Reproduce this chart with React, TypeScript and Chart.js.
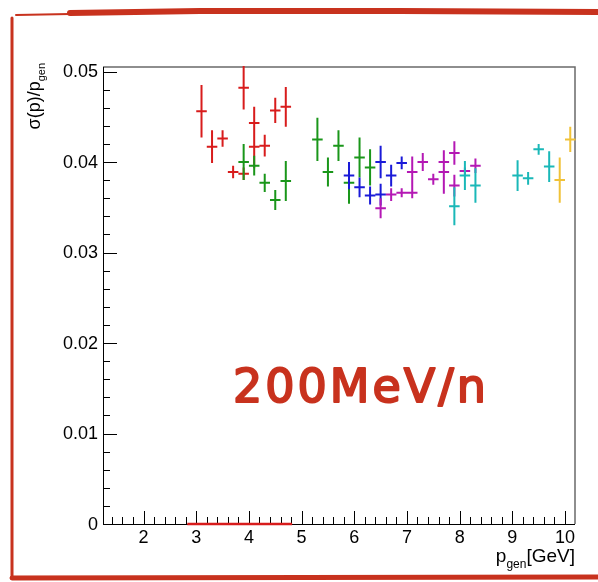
import React, { useEffect, useRef } from "react";
import { Chart, registerables } from "chart.js";

Chart.register(...registerables);

// ---- axis ranges & ticks ----
const X_MIN = 1.23;
const X_MAX = 10.19;
const Y_MIN = 0;
const Y_MAX = 0.0505;
const xMajorTicks = [2, 3, 4, 5, 6, 7, 8, 9, 10];
const xTickLabels = ["2", "3", "4", "5", "6", "7", "8", "9", "10"];
const yMajorTicks = [0, 0.01, 0.02, 0.03, 0.04, 0.05];
const yTickLabels = ["0", "0.01", "0.02", "0.03", "0.04", "0.05"];
const X_MINOR_STEP = 0.2;
const Y_MINOR_STEP = 0.002;

// ---- data: momentum bins (x), resolution (y), y-errors ----
const X_ERR = 0.1;

const redX = [3.1, 3.3, 3.5, 3.7, 3.9, 3.9, 4.1, 4.1, 4.3, 4.5, 4.7];
const redY = [0.0456, 0.0417, 0.0426, 0.0389, 0.0482, 0.0387, 0.0443, 0.0417, 0.0418, 0.0457, 0.0461];
const redEY = [0.0029, 0.0018, 0.0009, 0.0007, 0.0024, 0.0007, 0.0018, 0.0024, 0.0012, 0.0014, 0.0022];

const greenX = [3.9, 4.1, 4.3, 4.5, 4.7, 5.3, 5.5, 5.7, 5.9, 6.1, 6.3];
const greenY = [0.04, 0.0396, 0.0377, 0.0358, 0.0379, 0.0425, 0.0389, 0.0418, 0.0377, 0.0405, 0.0394];
const greenEY = [0.002, 0.0011, 0.001, 0.0011, 0.0022, 0.0024, 0.0016, 0.0017, 0.0023, 0.0022, 0.002];

const blueX = [5.9, 6.1, 6.3, 6.5, 6.5, 6.7, 6.9];
const blueY = [0.0385, 0.0372, 0.0363, 0.04, 0.0364, 0.0385, 0.0399];
const blueEY = [0.0015, 0.0011, 0.001, 0.0018, 0.0012, 0.0012, 0.0007];

const magentaX = [6.5, 6.7, 6.9, 7.1, 7.1, 7.3, 7.5, 7.7, 7.7, 7.9, 7.9, 8.1, 8.3];
const magentaY = [0.0349, 0.0364, 0.0366, 0.0389, 0.0366, 0.04, 0.0381, 0.04, 0.0389, 0.041, 0.0374, 0.039, 0.0396];
const magentaEY = [0.0011, 0.0007, 0.0005, 0.0017, 0.0006, 0.001, 0.0006, 0.0012, 0.0024, 0.0013, 0.0012, 0.0004, 0.0008];

const cyanX = [7.9, 8.1, 8.3, 9.1, 9.3, 9.5, 9.7];
const cyanY = [0.0351, 0.0385, 0.0374, 0.0385, 0.0382, 0.0414, 0.0395];
const cyanEY = [0.0021, 0.0016, 0.0019, 0.0017, 0.0007, 0.0006, 0.0017];

const yellowX = [9.9, 10.1];
const yellowY = [0.038, 0.0425];
const yellowEY = [0.0025, 0.0014];

// red marker segment along the x axis
const segX = [2.83, 4.82];
const segY = [0, 0];

const ANNOTATION = "200MeV/n";

const COLORS = {
  red: "#d81c1c",
  green: "#1a961a",
  blue: "#1a1ad8",
  magenta: "#b418b4",
  cyan: "#1ab8b8",
  yellow: "#f0c238",
  brush: "#c8321e",
};

function pts(xs: number[], ys: number[], es: number[]) {
  return xs.map((x, i) => ({ x, y: ys[i], ey: es[i] }));
}

const FONT = "'Liberation Sans', Arial, sans-serif";

const rootPlugin = {
  id: "rootStyle",
  beforeDraw(chart: any) {
    const ctx = chart.ctx;
    const W = chart.width;
    const H = chart.height;
    ctx.save();
    ctx.fillStyle = "#ffffff";
    ctx.fillRect(0, 0, W, H);
    // hand-drawn red frame
    ctx.strokeStyle = COLORS.brush;
    ctx.lineCap = "round";
    ctx.lineWidth = 2;
    ctx.beginPath();
    ctx.moveTo(16, 15);
    ctx.lineTo(70, 14);
    ctx.stroke();
    ctx.lineWidth = 6;
    ctx.beginPath();
    ctx.moveTo(70, 13);
    ctx.lineTo(200, 11);
    ctx.lineTo(400, 11);
    ctx.lineTo(598, 12);
    ctx.stroke();
    ctx.lineWidth = 3;
    ctx.beginPath();
    ctx.moveTo(12, 18);
    ctx.lineTo(12, 578);
    ctx.stroke();
    ctx.lineWidth = 5;
    ctx.beginPath();
    ctx.moveTo(12, 578);
    ctx.lineTo(598, 577);
    ctx.stroke();
    ctx.restore();
  },
  beforeDatasetsDraw(chart: any) {
    const ctx = chart.ctx;
    const xs = chart.scales.x;
    const ys = chart.scales.y;
    const a = chart.chartArea;
    ctx.save();
    // frame
    ctx.strokeStyle = "#6a6a6a";
    ctx.lineWidth = 1.5;
    ctx.beginPath();
    ctx.moveTo(a.left, a.top);
    ctx.lineTo(a.right, a.top);
    ctx.lineTo(a.right, a.bottom);
    ctx.stroke();
    ctx.strokeStyle = "#000";
    ctx.lineWidth = 1;
    ctx.beginPath();
    ctx.moveTo(a.left + 0.5, a.top);
    ctx.lineTo(a.left + 0.5, a.bottom + 0.5);
    ctx.lineTo(a.right, a.bottom + 0.5);
    ctx.stroke();
    // x ticks (inside)
    ctx.beginPath();
    for (let v = 1.4; v <= X_MAX + 1e-9; v += X_MINOR_STEP) {
      const px = Math.round(xs.getPixelForValue(v)) + 0.5;
      const isMajor = Math.abs(v - Math.round(v)) < 1e-6;
      const len = isMajor ? 13 : 7;
      ctx.moveTo(px, a.bottom);
      ctx.lineTo(px, a.bottom - len);
    }
    // y ticks
    for (let v = 0; v <= Y_MAX + 1e-9; v += Y_MINOR_STEP) {
      const py = Math.round(ys.getPixelForValue(v)) + 0.5;
      const isMajor = Math.abs(v / 0.01 - Math.round(v / 0.01)) < 1e-6;
      const len = isMajor ? 14 : 7;
      ctx.moveTo(a.left, py);
      ctx.lineTo(a.left + len, py);
    }
    ctx.stroke();
    // tick labels
    ctx.fillStyle = "#000";
    ctx.font = `18px ${FONT}`;
    ctx.textAlign = "center";
    ctx.textBaseline = "top";
    xMajorTicks.forEach((v, i) => {
      ctx.fillText(xTickLabels[i], xs.getPixelForValue(v), a.bottom + 5);
    });
    ctx.textAlign = "right";
    ctx.textBaseline = "middle";
    yMajorTicks.forEach((v, i) => {
      ctx.fillText(yTickLabels[i], a.left - 5, ys.getPixelForValue(v) + 1);
    });
    // x title: p_gen[GeV], right aligned
    const big = `19px ${FONT}`;
    const small = `12px ${FONT}`;
    ctx.textBaseline = "alphabetic";
    ctx.textAlign = "left";
    ctx.font = big;
    const wGeV = ctx.measureText("[GeV]").width;
    const wP = ctx.measureText("p").width;
    ctx.font = small;
    const wGen = ctx.measureText("gen").width;
    const right = a.right;
    const base = 562;
    let xx = right - wGeV - wGen - wP;
    ctx.font = big;
    ctx.fillText("p", xx, base);
    ctx.font = small;
    ctx.fillText("gen", xx + wP, base + 6);
    ctx.font = big;
    ctx.fillText("[GeV]", xx + wP + wGen, base);
    // y title: sigma(p)/p_gen, rotated, right aligned to top
    ctx.save();
    ctx.translate(40, 63);
    ctx.rotate(-Math.PI / 2);
    ctx.font = `18px ${FONT}`;
    const wMain = ctx.measureText("\u03c3(p)/p").width;
    ctx.font = `11px ${FONT}`;
    const wSub = ctx.measureText("gen").width;
    const start = -(wMain + wSub);
    ctx.font = `18px ${FONT}`;
    ctx.fillText("\u03c3(p)/p", start, 0);
    ctx.font = `11px ${FONT}`;
    ctx.fillText("gen", start + wMain, 5);
    ctx.restore();
    ctx.restore();
  },
  afterDatasetsDraw(chart: any) {
    const ctx = chart.ctx;
    const xs = chart.scales.x;
    const ys = chart.scales.y;
    ctx.save();
    chart.data.datasets.forEach((ds: any) => {
      if (!ds.errorBars) return;
      ctx.strokeStyle = ds.borderColor;
      ctx.lineWidth = 2;
      ctx.beginPath();
      ds.data.forEach((p: any) => {
        const cx = xs.getPixelForValue(p.x);
        const cy = ys.getPixelForValue(p.y);
        ctx.moveTo(xs.getPixelForValue(p.x - X_ERR), cy);
        ctx.lineTo(xs.getPixelForValue(p.x + X_ERR), cy);
        ctx.moveTo(cx, ys.getPixelForValue(p.y - p.ey));
        ctx.lineTo(cx, ys.getPixelForValue(p.y + p.ey));
      });
      ctx.stroke();
    });
    // annotation text (hand-written marker look)
    ctx.fillStyle = COLORS.brush;
    ctx.strokeStyle = COLORS.brush;
    ctx.lineWidth = 2;
    ctx.lineJoin = "round";
    ctx.font = `46px 'DejaVu Sans', sans-serif`;
    ctx.textAlign = "left";
    ctx.textBaseline = "alphabetic";
    let x = 233;
    for (const ch of ANNOTATION) {
      ctx.fillText(ch, x, 402);
      ctx.strokeText(ch, x, 402);
      x += ctx.measureText(ch).width + 3;
    }
    ctx.restore();
  },
};

export default function App() {
  const ref = useRef<HTMLCanvasElement | null>(null);
  useEffect(() => {
    if (!ref.current) return;
    const mk = (data: any[], color: string) => ({
      type: "scatter",
      data,
      borderColor: color,
      backgroundColor: color,
      pointRadius: 0,
      pointHoverRadius: 0,
      showLine: false,
      errorBars: true,
    });
    const chart = new Chart(ref.current, {
      type: "scatter",
      data: {
        datasets: [
          {
            type: "line",
            data: segX.map((x, i) => ({ x, y: segY[i] })),
            borderColor: COLORS.red,
            borderWidth: 2.5,
            pointRadius: 0,
            clip: false,
          } as any,
          mk(pts(redX, redY, redEY), COLORS.red),
          mk(pts(greenX, greenY, greenEY), COLORS.green),
          mk(pts(blueX, blueY, blueEY), COLORS.blue),
          mk(pts(magentaX, magentaY, magentaEY), COLORS.magenta),
          mk(pts(cyanX, cyanY, cyanEY), COLORS.cyan),
          mk(pts(yellowX, yellowY, yellowEY), COLORS.yellow),
        ] as any,
      },
      options: {
        animation: false,
        responsive: false,
        devicePixelRatio: 1,
        layout: { padding: { left: 103, right: 23, top: 67, bottom: 58 } },
        plugins: { legend: { display: false }, tooltip: { enabled: false } },
        events: [],
        scales: {
          x: { type: "linear", min: X_MIN, max: X_MAX, display: false },
          y: { type: "linear", min: Y_MIN, max: Y_MAX, display: false },
        },
      } as any,
      plugins: [rootPlugin],
    });
    return () => chart.destroy();
  }, []);
  return (
    <div style={{ position: "absolute", left: 0, top: 0, width: 598, height: 582 }}>
      <canvas ref={ref} width={598} height={582} style={{ display: "block" }} />
    </div>
  );
}
